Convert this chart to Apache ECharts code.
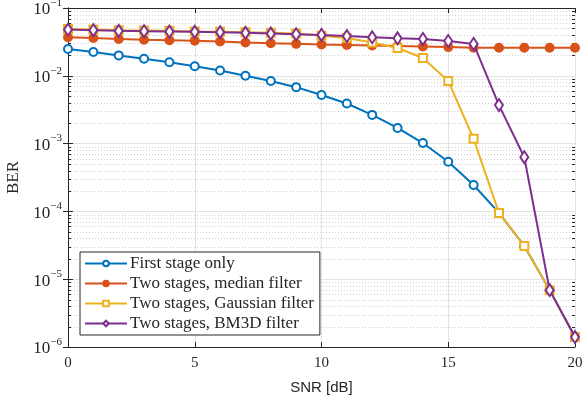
<!DOCTYPE html>
<html><head><meta charset="utf-8">
<script src="https://cdn.jsdelivr.net/npm/echarts@6/dist/echarts.min.js"></script>
<style>html,body{margin:0;padding:0;background:#fff}#c{width:582px;height:405px}</style>
</head><body><div id="c"></div>
<script>
const snr = [0,1,2,3,4,5,6,7,8,9,10,11,12,13,14,15,16,17,18,19,20];
const firstStage = [0.0248,0.0225,0.0200,0.0178,0.0158,0.0138,0.0120,0.0100,0.0084,0.0068,0.0052,0.0039,0.00265,0.0017,0.00102,0.00054,0.000245,0.000095,0.000031,0.0000069,0.0000014];
const median = [0.037,0.036,0.035,0.034,0.0335,0.033,0.032,0.031,0.0302,0.0296,0.029,0.0285,0.028,0.0275,0.027,0.0265,0.026,0.026,0.026,0.026,0.026];
const gaussian = [0.049,0.048,0.047,0.0465,0.046,0.045,0.0445,0.044,0.043,0.042,0.039,0.036,0.031,0.0257,0.0183,0.0084,0.00118,0.000095,0.000031,0.0000069,0.0000014];
const bm3d = [0.048,0.047,0.046,0.0455,0.045,0.0445,0.044,0.043,0.042,0.041,0.040,0.0386,0.037,0.0357,0.035,0.0326,0.0295,0.0037,0.00063,0.0000069,0.0000014];
const names = ['First stage only','Two stages, median filter','Two stages, Gaussian filter','Two stages, BM3D filter'];
const colors = ['#0072BD','#D95319','#EDB120','#7E2F8E'];

const minorVals = [];
for (let e = -6; e < -1; e++) for (let m = 2; m <= 9; m++) minorVals.push(+(m * Math.pow(10, e)).toPrecision(3));

const serif = '"Liberation Serif", "DejaVu Serif", serif';
const axisCol = '#262626';

function expLabel(v) {
  const e = Math.round(Math.log10(v));
  return '{b|10}{s|' + (e < 0 ? '\u2212' + (-e) : e) + '}';
}

const chart = echarts.init(document.getElementById('c'), null, {renderer: 'canvas'});
const lineSeries = [firstStage, median, gaussian, bm3d].map((d, i) => ({
  name: names[i],
  type: 'line',
  data: snr.map((x, k) => [x, d[k]]),
  xAxisIndex: 0, yAxisIndex: 0,
  symbol: ['circle','circle','rect','diamond'][i],
  symbolSize: [8, 8, 8, [8, 12]][i],
  showSymbol: true,
  lineStyle: {color: colors[i], width: 2},
  itemStyle: {color: i === 1 ? colors[i] : '#fff', borderColor: colors[i], borderWidth: 2},
  z: 10 + i,
  animation: false
}));

chart.setOption({
  animation: false,
  grid: {left: 68, right: 7, top: 8, bottom: 58, containLabel: false, outerBoundsMode: 'none'},
  xAxis: [{
    type: 'value', min: 0, max: 20, interval: 5,
    name: 'SNR [dB]', nameLocation: 'middle', nameGap: 33,
    nameTextStyle: {fontFamily: '"Liberation Sans", Arial, sans-serif', fontSize: 15, color: axisCol},
    axisLine: {show: true, lineStyle: {color: axisCol, width: 1}},
    axisTick: {show: true, inside: true, length: 5, lineStyle: {color: axisCol}},
    axisLabel: {fontFamily: serif, fontSize: 15, color: axisCol, margin: 9},
    splitLine: {show: true, lineStyle: {color: '#e3e3e3', width: 1}}
  }, {
    type: 'value', min: 0, max: 20, interval: 5, position: 'top',
    axisLine: {show: true, lineStyle: {color: axisCol, width: 1}},
    axisTick: {show: true, inside: true, length: 5, lineStyle: {color: axisCol}},
    axisLabel: {show: false}, splitLine: {show: false}
  }],
  yAxis: [{
    type: 'log', logBase: 10, min: 1e-6, max: 1e-1,
    name: 'BER', nameLocation: 'middle', nameGap: 46,
    nameTextStyle: {fontFamily: serif, fontSize: 17, color: axisCol},
    axisLine: {show: true, lineStyle: {color: axisCol, width: 1}},
    axisTick: {show: true, inside: true, length: 5, lineStyle: {color: axisCol}},
    axisLabel: {
      formatter: expLabel, margin: 6, color: axisCol,
      rich: {b: {fontFamily: serif, fontSize: 17, color: axisCol, padding: [4,0,0,0]},
             s: {fontFamily: serif, fontSize: 11, color: axisCol, verticalAlign: 'top'}}
    },
    splitLine: {show: true, lineStyle: {color: '#e3e3e3', width: 1}},
    minorTick: {show: false}
  }, {
    type: 'log', logBase: 10, min: 1e-6, max: 1e-1, position: 'right',
    axisLine: {show: true, lineStyle: {color: axisCol, width: 1}},
    axisTick: {show: true, inside: true, length: 5, lineStyle: {color: axisCol}},
    axisLabel: {show: false}, splitLine: {show: false}
  }],
  legend: {
    data: names.map(n => ({name: n})),
    orient: 'vertical', left: 80, top: 252,
    backgroundColor: '#fff', borderColor: axisCol, borderWidth: 1, borderRadius: 0,
    padding: [3, 6, 3, 4], itemGap: 3, itemWidth: 42, itemHeight: 7,
    textStyle: {fontFamily: serif, fontSize: 17, color: axisCol, padding: [0,0,0,-2]},
    z: 50
  },
  series: [{
    type: 'custom', name: 'minor', silent: true, z: 1,
    xAxisIndex: 0, yAxisIndex: 0,
    data: minorVals.map(v => [0, v]),
    renderItem: function (params, api) {
      const v = api.value(1);
      const a = api.coord([0, v]);
      const b = api.coord([20, v]);
      const y = Math.round(a[1]) + 0.5;
      return {type: 'group', children: [
        {type: 'line', shape: {x1: a[0], y1: y, x2: b[0], y2: y}, style: {stroke: '#cfcfcf', lineWidth: 1, lineDash: [1, 2]}},
        {type: 'line', shape: {x1: a[0], y1: y, x2: a[0] + 3, y2: y}, style: {stroke: axisCol, lineWidth: 1}},
        {type: 'line', shape: {x1: b[0], y1: y, x2: b[0] - 3, y2: y}, style: {stroke: axisCol, lineWidth: 1}}
      ]};
    },
    animation: false
  }].concat(lineSeries)
});
</script></body></html>
